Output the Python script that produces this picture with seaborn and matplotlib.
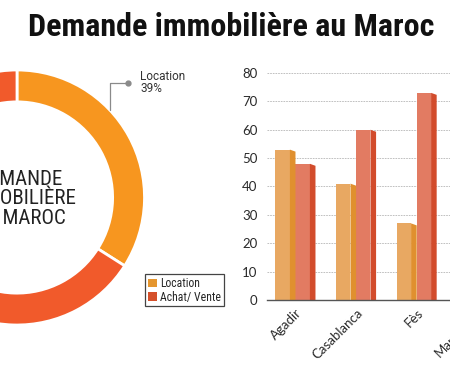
import matplotlib
matplotlib.use("Agg")
import matplotlib.pyplot as plt
import seaborn as sns
import pandas as pd
from matplotlib.patches import Polygon, Patch
from matplotlib import font_manager

# ---------------- data ----------------
title = "Demande immobilière au Maroc"
center_text = "DEMANDE\nIMMOBILIÈRE\nAU MAROC"
donut_labels = ["Location", "Achat/ Vente"]
donut_shares = [34, 66]          # shares as drawn in the ring
callout_text = "Location\n39%"

cities = ["Agadir", "Casablanca", "Fès", "Marrakech"]
location_vals = [53, 41, 27, 45]   # Marrakech lies off-canvas (estimate)
achat_vals = [48, 60, 73, 55]
y_ticks = [0, 10, 20, 30, 40, 50, 60, 70, 80]
series_names = ["Location", "Achat/ Vente"]

# ---------------- style ----------------
sns.set_theme(style="white")
names = {f.name for f in font_manager.fontManager.ttflist}


def pick(*cands):
    for c in cands:
        if c in names:
            return c
    return "DejaVu Sans"


narrow = pick("Roboto Condensed", "Archivo Narrow", "Liberation Sans Narrow",
              "Barlow Condensed", "Encode Sans Condensed")
regular = pick("Roboto", "Noto Sans")
tickfont = pick("Lato", "Roboto")
plt.rcParams["font.family"] = [regular, "DejaVu Sans"]

donut_orange = "#F7961F"
donut_red = "#F15A2B"
loc_front, loc_side = "#E8A862", "#E0902F"
ach_front, ach_side = "#E27B62", "#D24C2C"
leg_loc, leg_ach = "#E5962F", "#D5502B"

W, H = 450, 378
fig = plt.figure(figsize=(W / 100, H / 100), dpi=100)
fig.patch.set_facecolor("white")


def px_axes(left, top, width, height):
    return fig.add_axes([left / W, 1 - (top + height) / H, width / W, height / H])


# ---------------- title ----------------
fig.text(231 / W, 1 - 36.5 / H, title, ha="center", va="baseline",
         fontsize=23, fontweight="bold", family=[narrow, "DejaVu Sans"], color="#111111")

# ---------------- donut ----------------
cx, cy, R = 17, 197.5, 127.5
ax_d = px_axes(cx - R, cy - R, 2 * R, 2 * R)
ax_d.pie(donut_shares, colors=[donut_orange, donut_red], startangle=90,
         counterclock=False, radius=1,
         wedgeprops=dict(width=0.25, edgecolor="white", linewidth=2))
ax_d.set_xlim(-1, 1)
ax_d.set_ylim(-1, 1)
ax_d.axis("off")
ax_d.text(0.02, -0.01, center_text, ha="center", va="center", fontsize=15,
          family=[narrow, "DejaVu Sans"], color="#222222", linespacing=1.05)

# callout
p0 = (0.73, 0.684)
p1 = (0.73, 0.898)
p2 = (0.87, 0.898)
ax_d.plot([p0[0], p1[0], p2[0]], [p0[1], p1[1], p2[1]], color="#8a8a8a",
          lw=0.9, clip_on=False)
ax_d.plot([p2[0]], [p2[1]], "o", color="#8a8a8a", ms=3.5, clip_on=False)
ax_d.text(0.965, 1.0, callout_text, ha="left", va="top", fontsize=8.5,
          family=[regular, "DejaVu Sans"], color="#333333", linespacing=0.95)

# legend
handles = [Patch(facecolor=leg_loc, edgecolor="none"),
           Patch(facecolor=leg_ach, edgecolor="none")]
leg = fig.legend(handles, donut_labels, loc="upper left",
                 bbox_to_anchor=(145 / W, 1 - 274 / H), frameon=True,
                 fancybox=False, edgecolor="#444444", framealpha=1,
                 borderpad=0.25, handlelength=0.75, handleheight=0.75,
                 handletextpad=0.3, labelspacing=0.05, borderaxespad=0,
                 prop={"family": [narrow, "DejaVu Sans"], "size": 8.5})
leg.get_frame().set_linewidth(0.9)

# ---------------- bars ----------------
df = pd.DataFrame({
    "city": cities * 2,
    "type": [series_names[0]] * len(cities) + [series_names[1]] * len(cities),
    "value": location_vals + achat_vals,
})

ax_b = px_axes(267, 73, 300, 227)
sns.barplot(data=df, x="city", y="value", hue="type", order=cities,
            hue_order=series_names, palette=[loc_front, ach_front],
            width=0.66, gap=0, saturation=1, legend=False, ax=ax_b,
            edgecolor="none", linewidth=0)

px_per_unit = 60.6
ax_b.set_xlim(-0.47, -0.47 + 300 / px_per_unit)
ax_b.set_ylim(0, 80)
drop = 2 * 80 / 227

side_map = {matplotlib.colors.to_hex(loc_front): loc_side,
            matplotlib.colors.to_hex(ach_front): ach_side}
for bar in list(ax_b.patches):
    x, w, h = bar.get_x(), bar.get_width(), bar.get_height()
    if h <= 0:
        continue
    fw = w * 0.72
    bar.set_width(fw)
    sc = side_map.get(matplotlib.colors.to_hex(bar.get_facecolor()), "#999999")
    poly = Polygon([(x + fw, 0), (x + fw, h), (x + w, h - drop), (x + w, 0)],
                   closed=True, facecolor=sc, edgecolor="none", zorder=bar.get_zorder())
    ax_b.add_patch(poly)

ax_b.set_yticks(y_ticks)
ax_b.set_yticklabels([str(v) for v in y_ticks])
ax_b.set_xlabel("")
ax_b.set_ylabel("")
ax_b.set_axisbelow(True)
ax_b.yaxis.grid(True, color="#b5b5b5", lw=0.6, ls=(0, (2, 1.2)))
ax_b.xaxis.grid(False)
for s in ["top", "right", "left"]:
    ax_b.spines[s].set_visible(False)
ax_b.spines["bottom"].set_color("#555555")
ax_b.spines["bottom"].set_linewidth(1.0)
ax_b.tick_params(axis="y", length=0, pad=7, labelsize=9.5, labelcolor="#2a2a2a")
ax_b.tick_params(axis="x", length=0, pad=5, labelsize=9.5, labelcolor="#2a2a2a")
for lab in ax_b.get_yticklabels() + ax_b.get_xticklabels():
    lab.set_family([tickfont, "DejaVu Sans"])
    lab.set_fontweight("normal")
for lab in ax_b.get_xticklabels():
    lab.set_rotation(45)
    lab.set_ha("right")
    lab.set_rotation_mode("anchor")

fig.savefig("out.png", dpi=100, facecolor="white")
